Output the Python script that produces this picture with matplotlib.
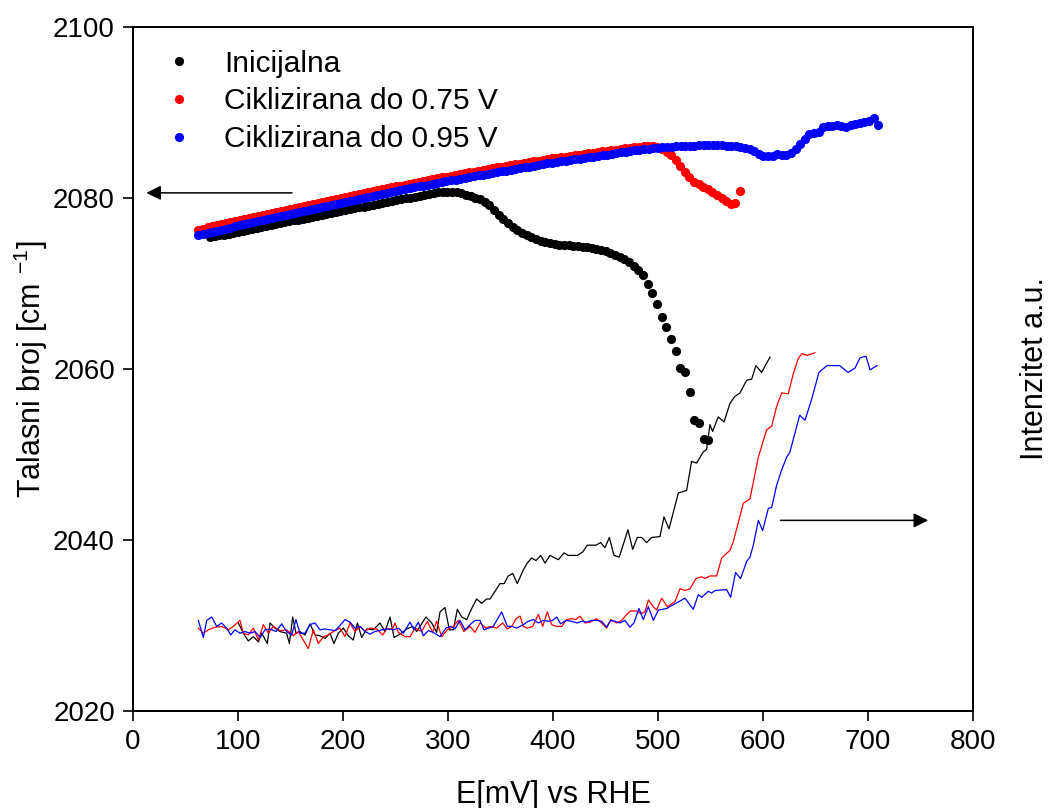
import numpy as np
import matplotlib
matplotlib.use("Agg")
import matplotlib.pyplot as plt

# ---------------- Fonts ----------------
plt.rcParams['font.family'] = ['Liberation Sans', 'DejaVu Sans']
plt.rcParams['mathtext.default'] = 'regular'

# ---------------- Data: band position (left axis) ----------------
# potential scan grid of each run (mV vs RHE), about 4.4 mV per step
e_init = np.linspace(73.3, 547.9, 108)
e_075 = np.linspace(62.2, 578.1, 119)
e_095 = np.linspace(62.2, 709.8, 149)

wn_init = [
    2075.40, 2075.51, 2075.62, 2075.73, 2075.84, 2075.95, 2076.06, 2076.17, 2076.27, 2076.38,
    2076.49, 2076.60, 2076.71, 2076.82, 2076.93, 2077.04, 2077.15, 2077.26, 2077.37, 2077.47,
    2077.58, 2077.69, 2077.80, 2077.91, 2078.02, 2078.13, 2078.24, 2078.35, 2078.45, 2078.56,
    2078.67, 2078.78, 2078.89, 2079.00, 2079.10, 2079.21, 2079.32, 2079.43, 2079.54, 2079.64,
    2079.75, 2079.85, 2079.95, 2080.05, 2080.15, 2080.25, 2080.35, 2080.45, 2080.55, 2080.65,
    2080.72, 2080.75, 2080.72, 2080.65, 2080.55, 2080.40, 2080.25, 2080.05, 2079.85, 2079.55,
    2079.15, 2078.65, 2078.05, 2077.55, 2077.05, 2076.65, 2076.30, 2075.95, 2075.65, 2075.40,
    2075.20, 2075.00, 2074.85, 2074.72, 2074.62, 2074.55, 2074.50, 2074.45, 2074.40, 2074.38,
    2074.32, 2074.25, 2074.15, 2074.05, 2073.92, 2073.75, 2073.58, 2073.38, 2073.12, 2072.85,
    2072.50, 2072.05, 2071.55, 2071.00, 2069.90, 2068.90, 2067.60, 2066.10, 2064.90, 2063.50,
    2062.10, 2060.10, 2059.60, 2057.30, 2054.00, 2053.70, 2051.80, 2051.70,
]

wn_075 = [
    2076.30, 2076.43, 2076.56, 2076.69, 2076.81, 2076.94, 2077.06, 2077.19, 2077.32, 2077.44,
    2077.56, 2077.68, 2077.80, 2077.92, 2078.04, 2078.16, 2078.27, 2078.39, 2078.51, 2078.62,
    2078.74, 2078.85, 2078.97, 2079.08, 2079.19, 2079.31, 2079.42, 2079.54, 2079.65, 2079.76,
    2079.88, 2079.99, 2080.10, 2080.22, 2080.33, 2080.45, 2080.56, 2080.67, 2080.79, 2080.90,
    2081.01, 2081.13, 2081.24, 2081.35, 2081.46, 2081.57, 2081.67, 2081.78, 2081.88, 2081.99,
    2082.09, 2082.20, 2082.30, 2082.40, 2082.51, 2082.61, 2082.71, 2082.80, 2082.90, 2083.00,
    2083.09, 2083.19, 2083.29, 2083.38, 2083.48, 2083.57, 2083.67, 2083.76, 2083.85, 2083.94,
    2084.02, 2084.11, 2084.20, 2084.29, 2084.37, 2084.46, 2084.54, 2084.63, 2084.70, 2084.78,
    2084.85, 2084.93, 2085.00, 2085.08, 2085.15, 2085.22, 2085.30, 2085.37, 2085.45, 2085.52,
    2085.60, 2085.67, 2085.74, 2085.81, 2085.87, 2085.93, 2085.98, 2086.03, 2086.07, 2086.10,
    2086.00, 2085.75, 2085.40, 2085.05, 2084.45, 2083.70, 2083.00, 2082.40, 2081.90, 2081.58,
    2081.30, 2081.00, 2080.70, 2080.35, 2079.95, 2079.60, 2079.25, 2079.45, 2080.85,
]

wn_095 = [
    2075.65, 2075.78, 2075.90, 2076.03, 2076.16, 2076.28, 2076.41, 2076.54, 2076.67, 2076.79,
    2076.91, 2077.04, 2077.16, 2077.28, 2077.41, 2077.53, 2077.65, 2077.77, 2077.90, 2078.02,
    2078.14, 2078.26, 2078.37, 2078.49, 2078.60, 2078.72, 2078.83, 2078.95, 2079.06, 2079.18,
    2079.29, 2079.40, 2079.51, 2079.63, 2079.75, 2079.87, 2079.99, 2080.11, 2080.23, 2080.35,
    2080.47, 2080.59, 2080.72, 2080.84, 2080.96, 2081.06, 2081.16, 2081.26, 2081.36, 2081.46,
    2081.56, 2081.66, 2081.76, 2081.86, 2081.96, 2082.06, 2082.16, 2082.25, 2082.35, 2082.45,
    2082.54, 2082.64, 2082.74, 2082.83, 2082.93, 2083.02, 2083.12, 2083.21, 2083.30, 2083.40,
    2083.49, 2083.58, 2083.67, 2083.76, 2083.85, 2083.94, 2084.04, 2084.13, 2084.21, 2084.29,
    2084.37, 2084.45, 2084.53, 2084.60, 2084.68, 2084.76, 2084.84, 2084.92, 2085.00, 2085.08,
    2085.17, 2085.26, 2085.34, 2085.43, 2085.50, 2085.57, 2085.63, 2085.70, 2085.77, 2085.83,
    2085.89, 2085.93, 2085.97, 2086.00, 2086.03, 2086.06, 2086.08, 2086.10, 2086.12, 2086.14,
    2086.15, 2086.15, 2086.15, 2086.15, 2086.14, 2086.11, 2086.07, 2086.03, 2085.98, 2085.85,
    2085.72, 2085.45, 2085.15, 2084.95, 2084.87, 2084.95, 2085.10, 2085.00, 2085.08, 2085.30,
    2085.75, 2086.35, 2086.85, 2087.50, 2087.60, 2087.70, 2088.30, 2088.40, 2088.45, 2088.55,
    2088.40, 2088.30, 2088.50, 2088.70, 2088.80, 2088.88, 2088.95, 2089.35, 2088.50,
]

# ---------------- Data: band intensity (right axis, a.u.) ----------------
int_init_e = [
    100.3, 105.1, 109.8, 114.6, 119.4, 122.6, 127.9, 130.5, 135.2, 140.0,
    146.3, 148.9, 152.1, 155.2, 159.0, 163.8, 168.6, 173.3, 178.1, 182.9,
    187.6, 191.4, 195.5, 200.3, 205.1, 209.8, 213.7, 217.8, 222.6, 228.9,
    235.2, 240.0, 244.8, 248.6, 254.3, 260.7, 266.4, 270.2, 279.0, 284.5,
    289.2, 292.4, 297.1, 301.3, 305.1, 308.9, 313.0, 317.8, 322.6, 327.3,
    332.1, 336.8, 340.0, 344.8, 349.5, 353.5, 357.4, 361.6, 366.0, 371.7,
    375.5, 379.7, 383.8, 388.3, 392.4, 397.1, 405.1, 410.5, 414.6, 423.2,
    428.3, 432.7, 441.0, 445.4, 449.5, 453.7, 458.1, 463.1, 471.4, 475.9,
    480.3, 484.5, 489.2, 494.0, 501.9, 505.7, 510.5, 519.4, 527.3, 532.0,
    536.8, 543.1, 546.3, 549.5, 552.0, 557.4, 562.9, 568.6, 573.3, 578.1,
    584.5, 589.2, 593.3, 598.7, 606.7,
]
int_init = [
    10.3, 9.1, 8.2, 8.7, 8.1, 9.1, 7.9, 10.3, 9.7, 9.3,
    9.1, 7.9, 11.0, 9.1, 9.3, 8.9, 10.2, 8.9, 8.8, 8.5,
    9.1, 7.9, 9.1, 9.7, 8.8, 8.3, 10.3, 8.6, 9.6, 9.5,
    10.3, 9.3, 11.0, 8.6, 9.0, 9.6, 9.9, 9.3, 11.0, 10.3,
    9.2, 11.6, 12.1, 9.5, 9.5, 11.9, 11.0, 10.7, 12.0, 13.1,
    12.6, 13.1, 13.1, 14.0, 14.9, 14.9, 15.8, 16.1, 14.9, 16.5,
    17.3, 17.9, 17.6, 18.2, 17.3, 18.2, 17.7, 18.5, 18.2, 18.2,
    18.6, 19.4, 19.4, 19.7, 19.1, 20.3, 18.2, 18.0, 21.2, 18.9,
    20.3, 20.3, 19.7, 20.3, 20.4, 22.7, 21.3, 25.5, 25.8, 29.2,
    29.0, 30.3, 30.6, 33.5, 32.7, 34.4, 33.8, 36.0, 36.8, 37.2,
    38.7, 38.8, 40.4, 39.6, 41.4,
]

int_075_e = [
    62.2, 67.0, 71.7, 78.1, 84.4, 90.8, 95.5, 101.9, 105.1, 109.8,
    114.6, 119.4, 124.1, 128.9, 133.6, 140.0, 146.3, 152.7, 157.4, 162.2,
    167.0, 171.7, 176.5, 181.3, 186.0, 190.8, 197.1, 201.9, 206.7, 211.4,
    216.2, 221.0, 225.7, 232.1, 237.8, 241.6, 247.3, 249.5, 252.7, 259.0,
    263.8, 268.6, 274.9, 280.3, 285.4, 289.2, 294.0, 299.3, 305.1, 309.8,
    315.2, 321.0, 325.7, 330.5, 336.2, 340.6, 346.4, 352.1, 356.5, 360.7,
    364.8, 368.6, 371.7, 375.5, 380.7, 386.0, 390.2, 394.6, 398.8, 403.5,
    408.3, 413.0, 417.8, 421.9, 425.7, 430.5, 435.2, 441.6, 446.3, 451.1,
    454.9, 460.7, 465.4, 470.2, 473.9, 479.7, 483.5, 487.6, 490.8, 495.6,
    498.7, 503.5, 508.9, 516.2, 521.0, 525.7, 530.5, 536.2, 541.6, 544.8,
    549.5, 555.9, 560.7, 568.6, 571.7, 581.3, 587.6, 595.6, 603.5, 608.3,
    613.0, 617.8, 624.1, 629.0, 633.5, 637.0, 642.0, 649.5,
]
int_075 = [
    9.7, 9.1, 9.5, 9.8, 9.9, 9.5, 9.9, 10.6, 9.1, 8.9,
    9.7, 8.3, 10.1, 9.1, 9.9, 9.4, 9.5, 8.8, 9.3, 8.3,
    7.3, 9.5, 7.9, 8.7, 8.9, 9.3, 9.7, 8.7, 10.3, 9.3,
    9.9, 9.3, 9.7, 9.6, 8.9, 9.6, 9.6, 10.3, 9.2, 8.7,
    8.7, 9.7, 9.3, 10.5, 9.2, 10.5, 8.7, 9.5, 9.9, 10.6,
    9.3, 9.9, 9.2, 10.3, 9.7, 9.9, 9.7, 10.3, 9.6, 9.9,
    10.8, 11.1, 9.9, 9.7, 9.9, 11.3, 9.9, 11.6, 10.1, 9.9,
    9.9, 10.7, 10.8, 10.7, 11.1, 10.3, 10.4, 10.8, 10.3, 9.7,
    10.7, 10.3, 10.6, 11.3, 11.7, 11.7, 11.4, 11.6, 13.0, 12.2,
    11.8, 13.2, 12.2, 12.8, 14.3, 14.1, 14.3, 15.5, 15.7, 15.5,
    15.8, 15.8, 17.9, 18.8, 19.8, 24.3, 24.8, 29.7, 32.9, 33.3,
    35.6, 37.2, 37.1, 39.5, 41.2, 41.8, 41.6, 41.9,
]

int_095_e = [
    62.2, 67.0, 70.2, 75.0, 79.7, 84.4, 89.2, 93.0, 97.1, 101.9,
    106.7, 111.4, 116.2, 121.0, 125.7, 130.5, 136.2, 141.6, 146.3, 151.1,
    155.2, 159.0, 163.8, 168.6, 173.3, 178.1, 182.9, 187.6, 192.4, 197.1,
    201.9, 206.7, 211.4, 216.2, 221.0, 225.7, 230.5, 236.8, 243.2, 248.0,
    252.7, 257.5, 263.8, 267.6, 271.7, 276.5, 281.3, 286.0, 292.4, 298.1,
    302.5, 306.7, 311.4, 316.2, 321.0, 325.7, 330.5, 334.3, 338.4, 343.1,
    351.1, 356.5, 360.7, 365.4, 371.7, 376.5, 381.3, 386.0, 390.8, 395.5,
    399.7, 403.5, 407.3, 412.4, 417.8, 423.2, 427.3, 432.1, 436.9, 441.6,
    446.3, 451.1, 454.9, 459.0, 463.8, 468.6, 473.3, 477.1, 481.9, 486.0,
    490.8, 495.6, 500.3, 508.3, 525.7, 533.6, 538.4, 541.6, 547.9, 551.1,
    554.3, 565.4, 569.2, 573.9, 578.7, 584.5, 587.6, 590.8, 595.6, 599.7,
    605.1, 608.3, 613.0, 617.8, 622.6, 625.7, 635.0, 640.0, 646.7, 653.3,
    661.0, 673.0, 681.0, 687.6, 692.4, 698.1, 702.0, 708.6,
]
int_095 = [
    10.6, 8.6, 10.6, 11.0, 9.9, 10.3, 9.7, 8.9, 9.5, 9.1,
    9.3, 9.1, 9.3, 8.6, 9.5, 9.6, 9.3, 10.2, 9.3, 8.9,
    10.7, 9.1, 9.1, 10.1, 10.3, 9.5, 9.6, 9.5, 9.4, 10.0,
    10.7, 10.4, 9.7, 9.9, 9.3, 9.0, 9.3, 9.5, 9.6, 9.5,
    9.7, 9.1, 10.4, 9.5, 10.4, 8.8, 9.4, 9.2, 8.7, 9.7,
    9.9, 9.6, 10.6, 9.5, 10.1, 10.6, 10.6, 9.5, 9.7, 9.9,
    11.6, 9.9, 9.9, 9.7, 10.1, 10.5, 10.7, 10.3, 10.6, 10.5,
    10.6, 11.0, 10.2, 10.6, 10.5, 10.3, 10.5, 10.4, 10.6, 10.6,
    10.5, 9.8, 10.6, 10.5, 10.3, 10.6, 9.8, 10.3, 12.0, 10.7,
    12.2, 10.6, 11.8, 12.0, 13.2, 11.9, 13.6, 13.3, 14.0, 13.8,
    14.1, 14.2, 13.3, 16.2, 15.5, 17.5, 18.0, 19.4, 22.3, 21.1,
    23.7, 23.8, 26.4, 28.2, 29.7, 30.3, 34.6, 34.0, 36.6, 39.6,
    40.4, 40.4, 39.6, 40.1, 41.3, 41.5, 39.9, 40.4,
]

labels = ['Inicijalna', 'Ciklizirana do 0.75 V', 'Ciklizirana do 0.95 V']
colors = ['black', '#ff0000', '#0000ff']

# ---------------- Plot ----------------
fig = plt.figure(figsize=(10.54, 8.08), dpi=100)
ax = fig.add_axes([0.1262, 0.12, 0.7969, 0.8466])
ax2 = ax.twinx()

# intensity traces (right axis)
ax2.plot(int_init_e, int_init, color=colors[0], lw=0.9)
ax2.plot(int_075_e, int_075, color=colors[1], lw=0.9)
ax2.plot(int_095_e, int_095, color=colors[2], lw=0.9)
ax2.set_ylim(0, 80)
ax2.set_yticks([])
ax2.set_ylabel('Intenzitet a.u.', fontsize=22, labelpad=34)

# band position (left axis) drawn above the intensity traces
ax.set_zorder(ax2.get_zorder() + 1)
ax.patch.set_visible(False)
ax.plot(e_init, wn_init, 'o', color=colors[0], ms=6.6, mew=0, label=labels[0])
ax.plot(e_075, wn_075, 'o', color=colors[1], ms=6.6, mew=0, label=labels[1])
ax.plot(e_095, wn_095, 'o', color=colors[2], ms=6.6, mew=0, label=labels[2])

ax.set_xlim(0, 800)
ax.set_ylim(2020, 2100)
ax.set_xticks(range(0, 801, 100))
ax.set_yticks(range(2020, 2101, 20))
ax.tick_params(axis='both', direction='out', length=7, width=1.2, labelsize=20, pad=6)
ax.set_xlabel('E[mV] vs RHE', fontsize=22, labelpad=18)
ax.set_ylabel('Talasni broj [cm $^{-1}$]', fontsize=22, labelpad=2)
for s in ax.spines.values():
    s.set_linewidth(1.3)
for s in ax2.spines.values():
    s.set_linewidth(1.3)

# arrows pointing to the matching axis
ax.annotate('', xy=(10, 2080.6), xytext=(154, 2080.6),
            arrowprops=dict(arrowstyle='-|>', color='black', lw=1.1, mutation_scale=22))
ax.annotate('', xy=(760, 2042.3), xytext=(614, 2042.3),
            arrowprops=dict(arrowstyle='-|>', color='black', lw=1.1, mutation_scale=22))

ax.legend(loc='upper left', bbox_to_anchor=(0.008, 0.997), frameon=False, fontsize=21.5,
          handletextpad=0.93, labelspacing=0.32, handlelength=1.2, borderpad=0.2)

fig.savefig('out.png', dpi=100)
